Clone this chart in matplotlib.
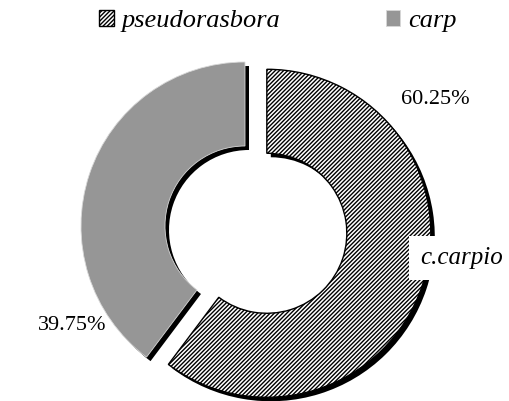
import os
import matplotlib
matplotlib.use("Agg")
import matplotlib.pyplot as plt
from matplotlib import font_manager

# ---------------------------------------------------------------------------
# Data
# ---------------------------------------------------------------------------
species = ["pseudorasbora", "carp"]
shares = [60.25, 39.75]
inner_label = "c.carpio"

W, H = 510, 401
plt.rcParams["hatch.linewidth"] = 1.0

FONT_FILES = {os.path.basename(p).lower(): p for p in font_manager.findSystemFonts()}

# Times-metric faces, in order of preference
REGULAR = ["liberationserif-regular.ttf", "tinos-regular.ttf", "freeserif.ttf",
           "nimbusroman-regular.otf", "texgyretermes-regular.otf"]
ITALIC = ["liberationserif-italic.ttf", "tinos-italic.ttf", "freeserifitalic.ttf",
          "nimbusroman-italic.otf", "texgyretermes-italic.otf"]


def serif_font(italic=False, size=16):
    for name in (ITALIC if italic else REGULAR):
        if name in FONT_FILES:
            return font_manager.FontProperties(fname=FONT_FILES[name], size=size)
    return font_manager.FontProperties(family="serif",
                                       style="italic" if italic else "normal",
                                       size=size)


fig = plt.figure(figsize=(W / 100, H / 100), dpi=100)
ax = fig.add_axes([0, 0, 1, 1])

centre = (245, 175)
radius = 164
ring = 84
explode = [23, 0]

# drop shadow: black copy shifted right/down
ax.pie(shares, center=(centre[0] + 4, centre[1] - 4), radius=radius,
       explode=explode, startangle=90, counterclock=False,
       colors=["black", "black"],
       wedgeprops=dict(width=ring, linewidth=0))

wedges, _ = ax.pie(shares, center=centre, radius=radius,
                   explode=explode, startangle=90, counterclock=False,
                   colors=["white", "#969696"],
                   wedgeprops=dict(width=ring))
wedges[0].set_hatch("////////")
wedges[0].set_edgecolor("black")
wedges[0].set_linewidth(1.0)
wedges[1].set_edgecolor("#d8d8d8")
wedges[1].set_linewidth(0.6)

ax.set_xlim(0, W)
ax.set_ylim(0, H)
ax.set_aspect("auto")
ax.axis("off")

# percentage labels
ax.text(435, H - 100, f"{shares[0]:.2f}%", fontproperties=serif_font(False, 16),
        ha="center", va="center")
ax.text(72, H - 326, f"{shares[1]:.2f}%", fontproperties=serif_font(False, 16),
        ha="center", va="center")

# series label in white box over the ring
ax.text(462, H - 258, inner_label, fontproperties=serif_font(True, 18),
        ha="center", va="center",
        bbox=dict(boxstyle="square,pad=0.45", fc="white", ec="none"))

leg = ax.legend(wedges, species, loc="center left",
                bbox_to_anchor=(99 / W, 1 - 21 / H), ncol=2, frameon=False,
                borderpad=0, borderaxespad=0, handlelength=0.55,
                handleheight=0.55, handletextpad=0.3, columnspacing=4.0,
                prop=serif_font(True, 19))

fig.savefig("out.png", dpi=100)
